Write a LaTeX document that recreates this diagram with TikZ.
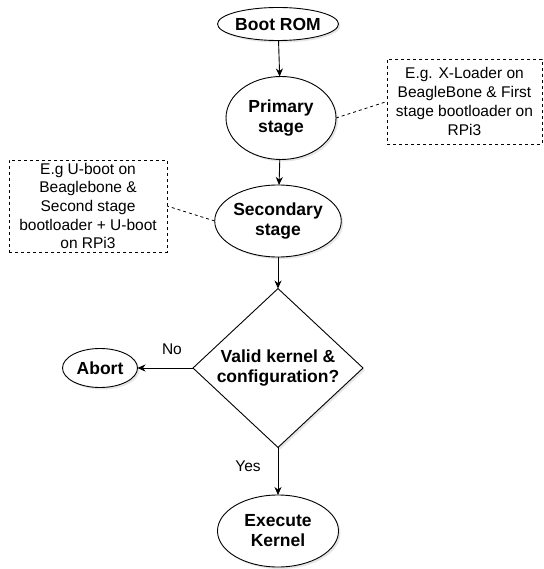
\documentclass[tikz,border=0pt]{standalone}
\usepackage{fontspec}
\setmainfont{Liberation Sans}
\usetikzlibrary{shapes.geometric,arrows.meta,shadows}
\begin{document}
\begin{tikzpicture}[x=1pt,y=-1pt,
  every node/.style={inner sep=0pt, outer sep=0pt},
  shad/.style={drop shadow={opacity=0.2, shadow xshift=2pt, shadow yshift=-2pt}},
  stage/.style={ellipse, draw, fill=white, line width=0.9pt, shad,
    font=\fontsize{17.5}{20}\selectfont\bfseries, align=center},
  decision/.style={diamond, draw, fill=white, line width=0.9pt, shad,
    font=\fontsize{17.5}{20}\selectfont\bfseries, align=center},
  note/.style={rectangle, draw, dashed, dash pattern=on 3pt off 3pt, line width=0.8pt,
    font=\fontsize{15.5}{18.7}\selectfont, align=center},
  arr/.style={draw, line width=0.9pt, -{Stealth[length=8pt,width=7pt,inset=2.5pt]}},
  link/.style={draw, line width=0.8pt, dash pattern=on 3pt off 3pt},
  lbl/.style={font=\fontsize{15.5}{18.7}\selectfont}
]
\useasboundingbox (0,0) rectangle (543,569);

\node[stage, minimum width=104, minimum height=33] (boot) at (278,24) {Boot ROM};
\node[stage, minimum width=110, minimum height=83] (prim) at (281,118) {Primary\\stage};
\node[stage, minimum width=110, minimum height=72] (sec) at (278,221) {Secondary\\stage};
\node[decision, minimum width=170, minimum height=146] (valid) at (278,368) {Valid kernel \&\\configuration?};
\node[stage, minimum width=75, minimum height=39] (abort) at (100,368) {Abort};
\node[stage, minimum width=121, minimum height=72] (exec) at (278,531) {Execute\\Kernel};

\node[note, minimum width=155, minimum height=85] (note1) at (464.5,101.5)
  {E.g. X-Loader on\\BeagleBone \& First\\stage bootloader on\\RPi3};
\node[note, minimum width=158, minimum height=92] (note2) at (88,206)
  {E.g U-boot on\\Beaglebone \&\\Second stage\\bootloader + U-boot\\on RPi3};

\draw[arr] (boot) -- (prim);
\draw[arr] (prim) -- (sec);
\draw[arr] (sec) -- (valid);
\draw[arr] (valid) -- node[lbl, pos=0.38, yshift=19pt] {No} (abort);
\draw[arr] (valid) -- node[lbl, pos=0.4, xshift=-30pt] {Yes} (exec);

\draw[link] (prim.east) -- (note1.west);
\draw[link] (sec.west) -- (note2.east);
\end{tikzpicture}
\end{document}
